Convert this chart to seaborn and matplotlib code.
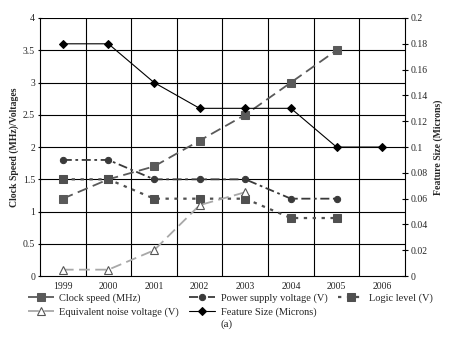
import matplotlib
matplotlib.use("Agg")
import matplotlib.pyplot as plt
import seaborn as sns
import numpy as np

years = ["1999", "2000", "2001", "2002", "2003", "2004", "2005", "2006"]
clock_speed = [1.2, 1.5, 1.7, 2.1, 2.5, 3.0, 3.5]
power_supply = [1.8, 1.8, 1.5, 1.5, 1.5, 1.2, 1.2]
logic_level = [1.5, 1.5, 1.2, 1.2, 1.2, 0.9, 0.9]
noise_voltage = [0.1, 0.1, 0.4, 1.1, 1.3]
feature_size = [0.18, 0.18, 0.15, 0.13, 0.13, 0.13, 0.10, 0.10]

sns.set_style("white")
plt.rcParams['font.family'] = ['Liberation Serif', 'DejaVu Serif']

fig = plt.figure(figsize=(4.54, 3.46), dpi=100)
ax = fig.add_axes([0.088, 0.202, 0.804, 0.746])
ax2 = ax.twinx()

x = np.arange(len(years))

sns.lineplot(x=x[:len(clock_speed)], y=clock_speed, ax=ax, color="#5a5a5a",
             linestyle=(0, (6, 3)), linewidth=1.3, marker="s", markersize=5.5,
             markeredgecolor="#5a5a5a", label="Clock speed (MHz)", legend=False)
sns.lineplot(x=x[:len(power_supply)], y=power_supply, ax=ax, color="#3a3a3a",
             linestyle=(0, (5, 2, 1.5, 2)), linewidth=1.3, marker="o", markersize=4.5,
             markeredgecolor="#3a3a3a", label="Power supply voltage (V)", legend=False)
sns.lineplot(x=x[:len(logic_level)], y=logic_level, ax=ax, color="#505050",
             linestyle=(0, (1.5, 2.5)), linewidth=1.6, marker="s", markersize=5.5,
             markeredgecolor="#505050", label="Logic level (V)", legend=False)
sns.lineplot(x=x[:len(noise_voltage)], y=noise_voltage, ax=ax, color="#a8a8a8",
             linestyle=(0, (6, 3)), linewidth=1.3, marker="^", markersize=6,
             markerfacecolor="white", markeredgecolor="#555555", markeredgewidth=0.8,
             label="Equivalent noise voltage (V)", legend=False)
sns.lineplot(x=x, y=feature_size, ax=ax2, color="black", linestyle="-",
             linewidth=0.8, marker="D", markersize=4.5, markeredgecolor="black",
             label="Feature Size (Microns)", legend=False)

ax.set_xlim(-0.5, len(years) - 0.5)
ax.set_ylim(0, 4)
ax2.set_ylim(0, 0.2)
ax.set_yticks(np.arange(0, 4.01, 0.5))
ax.set_yticklabels(["0", "0.5", "1", "1.5", "2", "2.5", "3", "3.5", "4"])
ax2.set_yticks(np.arange(0, 0.201, 0.02))
ax2.set_yticklabels(["0", "0.02", "0.04", "0.06", "0.08", "0.1", "0.12", "0.14", "0.16", "0.18", "0.2"])
ax.set_xticks(x)
ax.set_xticklabels(years)
ax.set_xticks(np.arange(-0.5, len(years), 1), minor=True)

ax.tick_params(axis="x", which="major", length=0, labelsize=7, pad=4)
ax.tick_params(axis="x", which="minor", length=3, direction="inout", color="black")
ax.tick_params(axis="y", length=3, direction="inout", labelsize=7, pad=2, color="black", left=True)
ax2.tick_params(axis="y", length=4, direction="inout", labelsize=7, pad=2, color="black", right=True)

ax.grid(False)
ax2.grid(False)
for yv in np.arange(0.5, 4.01, 0.5):
    ax.axhline(yv, color="black", linewidth=0.8, zorder=0)
for xv in np.arange(0.5, len(years) - 0.5, 1):
    ax.axvline(xv, color="black", linewidth=0.8, zorder=0)

for a in (ax, ax2):
    for s in a.spines.values():
        s.set_visible(False)
ax.spines["left"].set_visible(True)
ax.spines["left"].set_color("black")
ax.spines["left"].set_linewidth(0.8)
ax.spines["bottom"].set_visible(True)
ax.spines["bottom"].set_color("black")
ax.spines["bottom"].set_linewidth(0.8)
ax2.spines["right"].set_visible(True)
ax2.spines["right"].set_color("black")
ax2.spines["right"].set_linewidth(0.8)

ax.set_ylabel("Clock Speed (MHz)/Voltages", fontsize=7, fontweight="bold", labelpad=3)
ax2.set_ylabel("Feature Size (Microns)", fontsize=7, fontweight="bold", labelpad=4)

h1, l1 = ax.get_legend_handles_labels()
h2, l2 = ax2.get_legend_handles_labels()
hd = dict(zip(l1 + l2, h1 + h2))
order = ["Clock speed (MHz)", "Equivalent noise voltage (V)", "Power supply voltage (V)",
         "Feature Size (Microns)", "Logic level (V)"]
fig.legend([hd[k] for k in order], order, loc="upper left", bbox_to_anchor=(0.05, 0.167),
           ncol=3, frameon=False, fontsize=7.5, handlelength=2.5, columnspacing=1.0,
           handletextpad=0.5, labelspacing=0.4, borderpad=0)

fig.text(0.5, 0.062, "(a)", ha="center", va="center", fontsize=8)

fig.savefig("out.png", dpi=100)
